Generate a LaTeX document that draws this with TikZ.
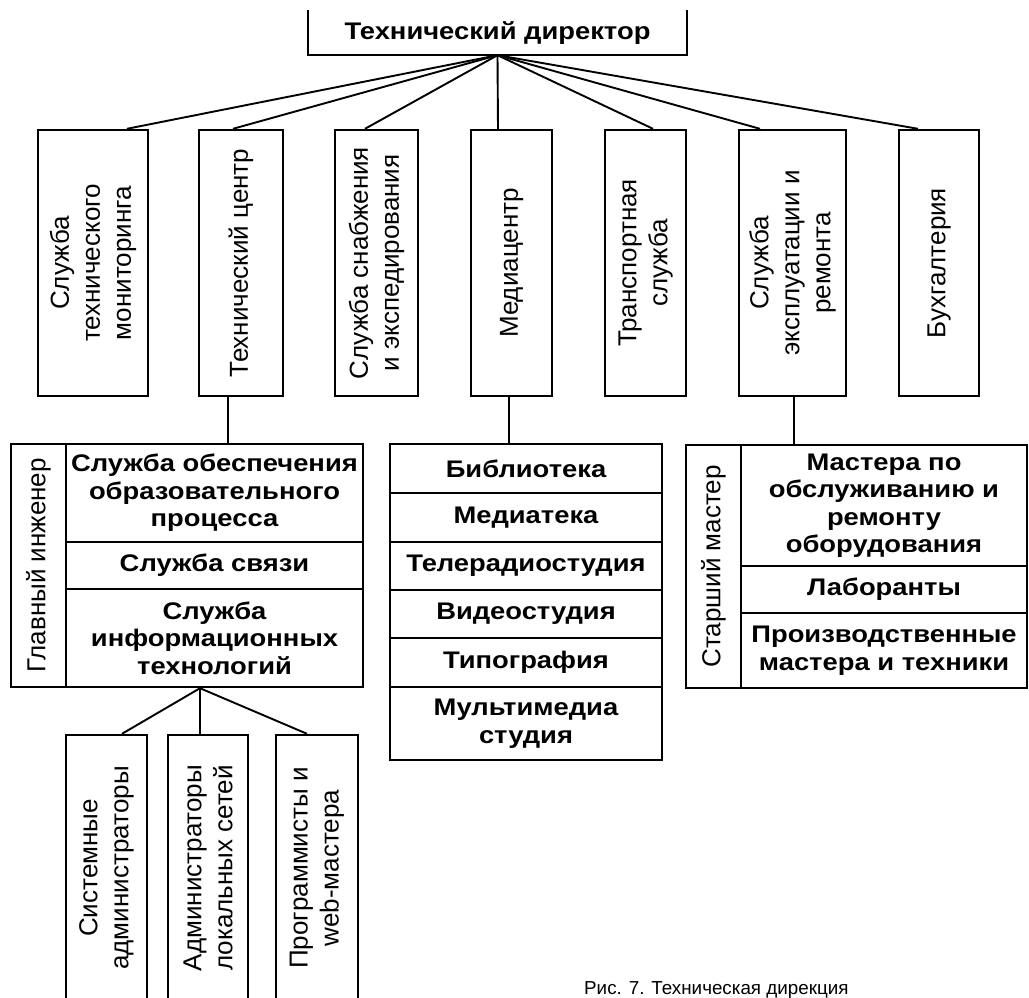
\documentclass[tikz,border=0pt]{standalone}
\usepackage{fontspec}
\setmainfont{Liberation Sans}
\newfontfamily\bfam[FakeStretch=1.14]{Liberation Sans}
\tikzset{
  box/.style={draw, line width=2.4pt, inner sep=0pt, fill=white},
  cell/.style={box, align=center, font=\bfam\bfseries\fontsize{24}{27.5}\selectfont},
  vtxt/.style={rotate=90, align=center, inner sep=0pt, font=\fontsize{26}{31}\selectfont},
  conn/.style={line width=1.9pt},
}
\begin{document}
\begin{tikzpicture}[x=1pt,y=-1pt]
\useasboundingbox (0,0) rectangle (1029,998);
\clip (0,0) rectangle (1029,998);
% director
\node[inner sep=0pt, minimum width=379pt, minimum height=45pt, font=\bfam\bfseries\fontsize{24}{27}\selectfont] (dir) at (497.5,33.5) {Технический директор};
\draw[line width=2.4pt] ([yshift=1pt]dir.north west) -- ([yshift=1pt]dir.south west) -- ([yshift=1pt]dir.south east) -- ([yshift=1pt]dir.north east);
% second row
\node[box, minimum width=110pt, minimum height=266pt] (b1) at (93,263) {};
\node[box, minimum width=84pt, minimum height=266pt] (b2) at (241,263) {};
\node[box, minimum width=83pt, minimum height=266pt] (b3) at (376.5,263) {};
\node[box, minimum width=81pt, minimum height=266pt] (b4) at (511.5,263) {};
\node[box, minimum width=81pt, minimum height=266pt] (b5) at (645.5,263) {};
\node[box, minimum width=107pt, minimum height=266pt] (b6) at (792.5,263) {};
\node[box, minimum width=80pt, minimum height=266pt] (b7) at (939,263) {};
\node[vtxt] (t1) at (b1.center) {Служба\\технического\\мониторинга};
\node[vtxt] (t2) at (b2.center) {Технический центр};
\node[vtxt] (t3) at (b3.center) {Служба снабжения\\и экспедирования};
\node[vtxt] (t4) at (b4.center) {Медиацентр};
\node[vtxt] (t5) at (b5.center) {Транспортная\\служба};
\node[vtxt] (t6) at (b6.center) {Служба\\эксплуатации и\\ремонта};
\node[vtxt] (t7) at (b7.center) {Бухгалтерия};
% fan
\coordinate (fan) at ([yshift=1pt]dir.south);
\draw[conn] (fan) -- ([xshift=34pt]b1.north);
\draw[conn] (fan) -- ([xshift=-8pt]b2.north);
\draw[conn] (fan) -- ([xshift=-11.5pt]b3.north);
\draw[conn] (fan) -- ([xshift=-13.5pt]b4.north);
\draw[conn] (fan) -- ([xshift=7.5pt]b5.north);
\draw[conn] (fan) -- ([xshift=-32.5pt]b6.north);
\draw[conn] (fan) -- ([xshift=-21pt]b7.north);
% left block
\node[box, minimum width=55pt, minimum height=243pt] (gi) at (38.5,565.5) {};
\node[vtxt] (tgi) at (gi.center) {Главный инженер};
\node[cell, minimum width=297pt, minimum height=98pt] (l1) at (214.5,493) {Служба обеспечения\\образовательного\\процесса};
\node[cell, minimum width=297pt, minimum height=47pt] (l2) at (214.5,565.5) {Служба связи};
\node[cell, minimum width=297pt, minimum height=98pt] (l3) at (214.5,638) {Служба\\информационных\\технологий};
\draw[conn] ([xshift=-13pt]b2.south) -- ([xshift=-13pt]b2.south |- l1.north);
% middle block
\node[cell, minimum width=272pt, minimum height=49pt] (m1) at (526,468.5) {Библиотека};
\node[cell, minimum width=272pt, minimum height=49pt] (m2) at (526,517.5) {Медиатека};
\node[cell, minimum width=272pt, minimum height=48pt] (m3) at (526,566) {Телерадиостудия};
\node[cell, minimum width=272pt, minimum height=48pt] (m4) at (526,614) {Видеостудия};
\node[cell, minimum width=272pt, minimum height=49pt] (m5) at (526,662.5) {Типография};
\node[cell, minimum width=272pt, minimum height=73pt] (m6) at (526,723.5) {Мультимедиа\\студия};
\draw[conn] ([xshift=-2.5pt]b4.south) -- ([xshift=-2.5pt]b4.south |- m1.north);
% right block
\node[box, minimum width=55pt, minimum height=243pt] (sm) at (713.5,566.5) {};
\node[vtxt] (tsm) at (sm.center) {Старший мастер};
\node[cell, minimum width=286pt, minimum height=121pt] (r1) at (884,505.5) {Мастера по\\обслуживанию и\\ремонту\\оборудования};
\node[cell, minimum width=286pt, minimum height=47pt] (r2) at (884,589.5) {Лаборанты};
\node[cell, minimum width=286pt, minimum height=75pt] (r3) at (884,650.5) {Производственные\\мастера и техники};
\draw[conn] ([xshift=1.5pt]b6.south) -- ([xshift=1.5pt]b6.south |- r1.north);
% bottom boxes
\node[box, minimum width=81pt, minimum height=275pt] (ba) at (106.5,872.5) {};
\node[box, minimum width=80pt, minimum height=275pt] (bb) at (208,872.5) {};
\node[box, minimum width=82pt, minimum height=275pt] (bc) at (317,872.5) {};
\node[vtxt] (ta) at (106.5,868) {Системные\\администраторы};
\node[vtxt] (tb) at (208,868) {Администраторы\\локальных сетей};
\node[vtxt] (tc) at (317,868) {Программисты и\\web-мастера};
\draw[conn] ([xshift=-14.5pt]l3.south) -- ([xshift=15.5pt]ba.north);
\draw[conn] ([xshift=-14.5pt]l3.south) -- ([xshift=-8pt]bb.north);
\draw[conn] ([xshift=-14.5pt]l3.south) -- ([xshift=-10pt]bc.north);
% caption
\node[anchor=base west, inner sep=0pt, font=\fontsize{18.8}{21}\selectfont] (cap) at (584,994) {Рис. 7. Техническая дирекция};
\end{tikzpicture}
\end{document}
